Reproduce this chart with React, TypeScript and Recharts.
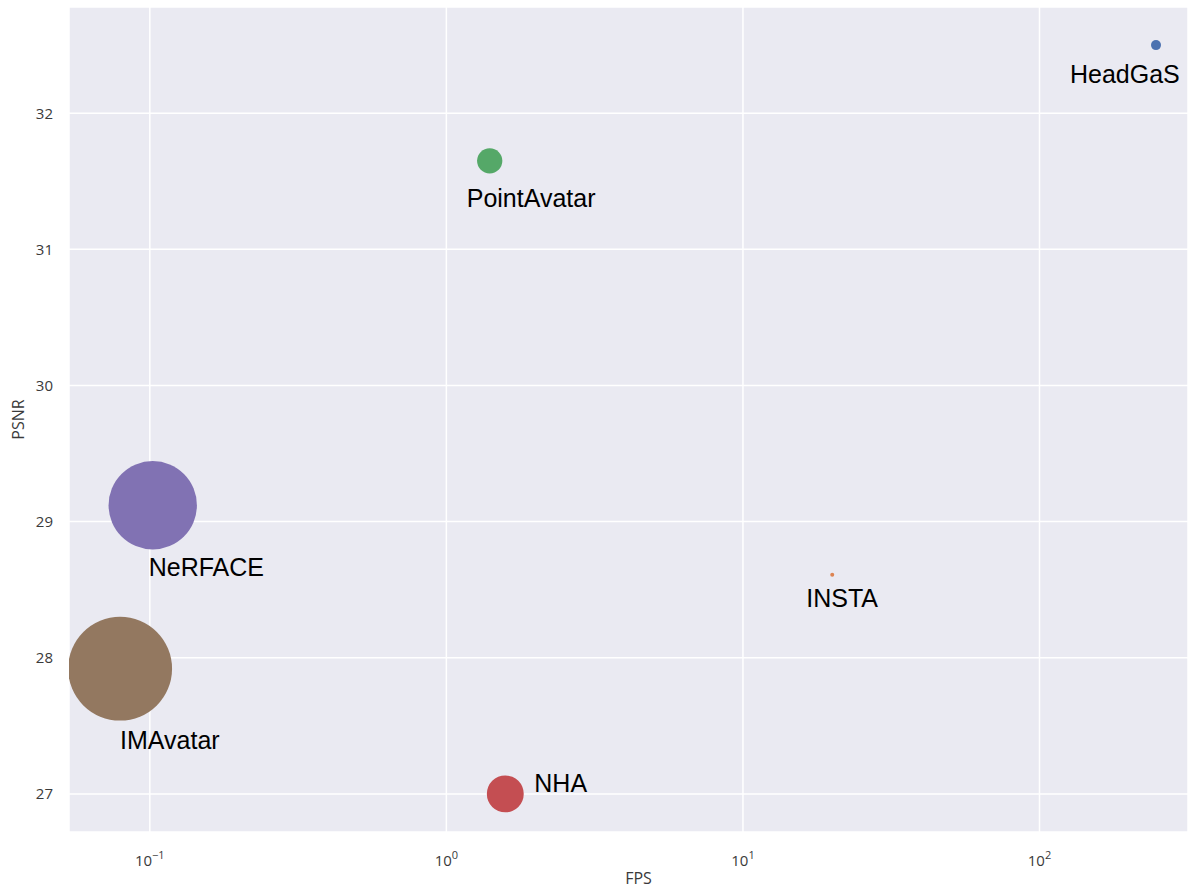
import {
  CartesianGrid,
  Cell,
  LabelList,
  Scatter,
  ScatterChart,
  XAxis,
  YAxis,
  ZAxis,
} from "recharts";

const methods = ["HeadGaS", "INSTA", "PointAvatar", "NHA", "NeRFACE", "IMAvatar"];
const fps = [247, 20, 1.4, 1.58, 0.1023, 0.0794];
const psnr = [32.5, 28.61, 31.65, 27.0, 29.12, 27.92];
const bubble = [25, 4, 160, 340, 1950, 2700];

const xTicks = [0.1, 1, 10, 100];
const yTicks = [27, 28, 29, 30, 31, 32];

const colors = ["#4C72B0", "#DD8452", "#55A868", "#C44E52", "#8172B3", "#937860"];
// text left / baseline offset from the marker centre
const labelOffset: [number, number][] = [
  [-86, 38],
  [-26, 32],
  [-23, 46],
  [29, -2],
  [-4, 71],
  [0, 80],
];

const data = methods.map((name, i) => ({
  name,
  fps: fps[i],
  psnr: psnr[i],
  size: bubble[i],
}));

const exponent: Record<number, string> = { 0.1: "\u22121", 1: "0", 10: "1", 100: "2" };

const XTick = (props: any) => {
  const { x, y, payload } = props;
  return (
    <text
      x={x}
      y={y + 32}
      textAnchor="middle"
      fontFamily="Open Sans"
      fontSize={15}
      fill="#3a3a3a"
    >
      10
      <tspan dy={-7} fontSize={11}>
        {exponent[payload.value]}
      </tspan>
    </text>
  );
};

const PointLabel = (props: any) => {
  const { x, y, width, height, index, value } = props;
  const cx = x + width / 2;
  const cy = y + height / 2;
  const [dx, dy] = labelOffset[index];
  return (
    <text
      x={cx + dx}
      y={cy + dy}
      fontFamily="Liberation Sans, Arial"
      fontSize={25}
      fill="#000"
    >
      {value}
    </text>
  );
};

export default function App() {
  return (
    <div style={{ position: "absolute", left: 0, top: 0 }}>
      <ScatterChart
        width={1196}
        height={896}
        margin={{ top: 7, right: 8, bottom: 8, left: 9 }}
      >
        <CartesianGrid fill="#EAEAF2" stroke="#FFFFFF" strokeWidth={1.5} />
        <XAxis
          dataKey="fps"
          type="number"
          scale="log"
          domain={[0.0534, 316.7]}
          allowDataOverflow
          ticks={xTicks}
          height={56}
          axisLine={false}
          tickLine={false}
          tickSize={0}
          tick={<XTick />}
          label={{
            value: "FPS",
            position: "insideBottom",
            offset: 4,
            dx: 10,
            fontFamily: "Open Sans",
            fontSize: 16,
            fill: "#3a3a3a",
          }}
        />
        <YAxis
          dataKey="psnr"
          type="number"
          domain={[26.72, 32.78]}
          allowDataOverflow
          ticks={yTicks}
          width={60}
          axisLine={false}
          tickLine={false}
          tickSize={0}
          tickMargin={16}
          tick={{ fontFamily: "Open Sans", fontSize: 15, fill: "#3a3a3a" }}
          label={{
            content: (p: any) => {
              const vb = p.viewBox;
              const cy = vb.y + vb.height / 2;
              return (
                <text
                  x={18}
                  y={cy}
                  transform={`rotate(-90, 18, ${cy})`}
                  textAnchor="middle"
                  dominantBaseline="central"
                  fontFamily="Open Sans"
                  fontSize={16}
                  fill="#3a3a3a"
                >
                  PSNR
                </text>
              );
            },
          }}
        />
        <ZAxis dataKey="size" type="number" domain={[0, 2700]} range={[0, 8482]} />
        <Scatter data={data} shape="circle" isAnimationActive={false}>
          {data.map((d, i) => (
            <Cell key={d.name} fill={colors[i]} />
          ))}
          <LabelList dataKey="name" content={<PointLabel />} />
        </Scatter>
      </ScatterChart>
    </div>
  );
}
